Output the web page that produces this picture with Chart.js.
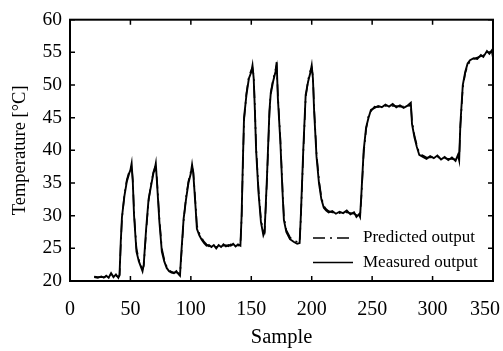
<!DOCTYPE html>
<html>
<head>
<meta charset="utf-8">
<script src="https://cdn.jsdelivr.net/npm/chart.js@4/dist/chart.umd.min.js"></script>
<style>
  html, body { margin: 0; padding: 0; background: #fff; }
  canvas { display: block; }
</style>
</head>
<body>
<canvas id="chart" width="503" height="351"></canvas>
<script>
// sample index
const samples = [
  20, 23, 26, 28, 30, 32, 34, 36, 38, 40,
  41, 42, 43, 45, 47, 49, 50, 51, 52, 53,
  55, 57, 59, 60, 61, 63, 65, 67, 69, 70,
  71, 72, 74, 76, 78, 80, 82, 84, 86, 88,
  90, 91, 92, 94, 96, 98, 100, 101, 102, 104,
  105, 107, 109, 111, 113, 115, 117, 119, 121, 123,
  125, 127, 129, 131, 133, 135, 137, 139, 141, 142,
  143, 144, 146, 148, 150, 151, 152, 153, 154, 156,
  158, 160, 161, 163, 165, 166, 168, 170, 171, 172,
  174, 176, 177, 179, 182, 185, 188, 190, 191, 193,
  195, 197, 199, 200, 201, 202, 204, 206, 208, 210,
  212, 214, 217, 220, 223, 226, 229, 232, 235, 237,
  239, 240, 241, 243, 245, 247, 249, 252, 255, 258,
  261, 264, 267, 270, 273, 276, 279, 282, 283, 285,
  287, 289, 292, 295, 298, 301, 304, 307, 310, 313,
  316, 319, 321, 322, 323, 325, 327, 329, 331, 334,
  337, 340, 342, 345, 347, 349, 350
];

const measured = [
  20.6, 20.5, 20.7, 20.5, 20.8, 20.5, 21.2, 20.6, 21.0, 20.5,
  21.0, 26.0, 29.8, 33.0, 35.2, 36.5, 37.0, 38.0, 35.0, 30.0,
  24.5, 23.0, 22.0, 21.5, 22.5, 28.0, 32.5, 34.5, 36.5, 37.0,
  38.0, 35.0, 29.0, 24.5, 23.0, 22.0, 21.5, 21.3, 21.2, 21.5,
  21.0, 20.8, 24.0, 29.5, 32.5, 35.0, 36.5, 37.8, 36.5, 31.0,
  28.0, 27.0, 26.3, 25.8, 25.4, 25.5, 25.2, 25.5, 25.0, 25.5,
  25.2, 25.6, 25.3, 25.5, 25.4, 25.7, 25.3, 25.6, 25.4, 30.0,
  38.0, 45.0, 48.5, 51.0, 52.0, 53.0, 51.0, 46.0, 40.0, 33.5,
  29.0, 27.0, 27.5, 36.0, 46.0, 48.5, 50.5, 52.0, 53.5, 48.0,
  41.5, 33.0, 29.3, 27.5, 26.4, 26.0, 25.7, 25.8, 30.0, 40.0,
  48.5, 50.5, 52.0, 53.0, 51.0, 46.0, 39.0, 35.0, 32.5, 31.2,
  30.8, 30.5, 30.7, 30.3, 30.6, 30.4, 30.8, 30.2, 30.5, 29.8,
  30.2, 29.8, 33.0, 40.0, 43.5, 45.0, 46.2, 46.5, 46.8, 46.6,
  47.0, 46.7, 47.1, 46.6, 46.9, 46.5, 46.8, 47.3, 44.0, 42.0,
  40.5, 39.3, 39.0, 38.7, 39.1, 38.8, 39.2, 38.6, 39.0, 38.5,
  38.9, 38.4, 39.3, 38.5, 44.0, 50.0, 52.0, 53.3, 53.8, 54.1,
  54.0, 54.6, 54.3, 55.2, 54.8, 55.3, 54.2
];

const predicted = [
  20.7, 20.6, 20.6, 20.6, 20.7, 20.6, 21.0, 20.7, 20.8, 20.6,
  20.8, 25.5, 29.5, 33.2, 35.5, 36.8, 37.2, 37.6, 35.4, 30.5,
  25.0, 23.3, 22.2, 21.8, 22.3, 27.5, 32.2, 34.8, 36.7, 37.3,
  37.7, 35.5, 29.5, 25.0, 23.3, 22.2, 21.7, 21.4, 21.3, 21.3,
  21.2, 21.0, 23.5, 29.2, 32.8, 35.3, 36.8, 37.4, 36.8, 31.5,
  28.5, 27.3, 26.6, 26.0, 25.6, 25.3, 25.4, 25.3, 25.2, 25.3,
  25.4, 25.4, 25.5, 25.3, 25.6, 25.5, 25.5, 25.4, 25.5, 29.5,
  37.5, 44.5, 48.8, 51.3, 52.3, 52.6, 51.4, 46.5, 40.5, 34.0,
  29.5, 27.4, 27.3, 35.5, 45.5, 48.8, 50.8, 52.3, 53.0, 48.5,
  42.0, 33.5, 29.8, 27.8, 26.7, 26.2, 26.0, 25.9, 29.5, 39.5,
  48.0, 50.8, 52.3, 52.6, 51.4, 46.5, 39.5, 35.5, 32.8, 31.5,
  31.0, 30.7, 30.5, 30.5, 30.4, 30.6, 30.5, 30.4, 30.3, 30.1,
  30.0, 30.0, 32.5, 39.5, 43.2, 45.3, 46.0, 46.7, 46.6, 46.8,
  46.8, 46.9, 46.8, 46.8, 46.7, 46.7, 46.6, 47.0, 44.5, 42.3,
  40.8, 39.6, 39.2, 38.9, 38.9, 39.0, 39.0, 38.8, 38.8, 38.7,
  38.7, 38.6, 39.0, 38.7, 43.5, 49.5, 51.8, 53.0, 53.6, 54.0,
  54.2, 54.4, 54.5, 54.9, 55.0, 55.0, 54.5
];

const xTicks = [0, 50, 100, 150, 200, 250, 300, 350];
const yTicks = [20, 25, 30, 35, 40, 45, 50, 55, 60];

const serif = '"Liberation Serif", "Times New Roman", serif';

const toPoints = ys => ys.map((v, i) => ({ x: samples[i], y: v }));

// frame, inward ticks on all four sides, x labels (last one kept inside canvas), legend
const framePlugin = {
  id: 'frame',
  afterDraw(chart) {
    const ctx = chart.ctx;
    const a = chart.chartArea;
    const x = chart.scales.x;
    const y = chart.scales.y;
    ctx.save();
    ctx.strokeStyle = '#000';
    ctx.lineWidth = 1.5;
    ctx.beginPath();
    xTicks.forEach(v => {
      const px = x.getPixelForValue(v);
      ctx.moveTo(px, a.bottom); ctx.lineTo(px, a.bottom - 5);
      ctx.moveTo(px, a.top); ctx.lineTo(px, a.top + 5);
    });
    yTicks.forEach(v => {
      const py = y.getPixelForValue(v);
      ctx.moveTo(a.left, py); ctx.lineTo(a.left + 5, py);
      ctx.moveTo(a.right, py); ctx.lineTo(a.right - 5, py);
    });
    ctx.stroke();
    ctx.lineWidth = 2;
    ctx.strokeRect(a.left, a.top, a.right - a.left, a.bottom - a.top);

    ctx.fillStyle = '#000';
    ctx.font = '20px ' + serif;
    ctx.textAlign = 'center';
    ctx.textBaseline = 'middle';
    xTicks.forEach(v => {
      const label = String(v);
      const w = ctx.measureText(label).width;
      let px = x.getPixelForValue(v);
      px = Math.min(px, chart.width - 3 - w / 2);
      ctx.fillText(label, px, a.bottom + 29);
    });

    // legend
    ctx.font = '17px ' + serif;
    ctx.textAlign = 'left';
    chart.data.datasets.forEach((ds, i) => {
      const ly = a.bottom - 43 + i * 24.5;
      ctx.beginPath();
      ctx.lineWidth = 1.5;
      ctx.setLineDash(ds.borderDash || []);
      ctx.moveTo(a.right - 180, ly);
      ctx.lineTo(a.right - 140, ly);
      ctx.stroke();
      ctx.setLineDash([]);
      ctx.fillText(ds.label, a.right - 130, ly);
    });
    ctx.restore();
  }
};

new Chart(document.getElementById('chart'), {
  type: 'line',
  data: {
    datasets: [
      {
        label: 'Predicted output',
        data: toPoints(predicted),
        borderColor: '#000',
        borderWidth: 1.6,
        borderDash: [12, 5, 2, 5],
        pointRadius: 0,
        tension: 0,
        fill: false
      },
      {
        label: 'Measured output',
        data: toPoints(measured),
        borderColor: '#000',
        borderWidth: 1.9,
        pointRadius: 0,
        tension: 0,
        fill: false
      }
    ]
  },
  options: {
    responsive: false,
    animation: false,
    devicePixelRatio: 1,
    layout: { padding: { top: 6, right: 10, left: 0, bottom: 0 } },
    plugins: {
      legend: { display: false },
      tooltip: { enabled: false }
    },
    scales: {
      x: {
        type: 'linear',
        min: 0,
        max: 350,
        ticks: { display: false, stepSize: 50 },
        grid: { display: false },
        border: { display: false },
        title: {
          display: true,
          text: 'Sample',
          color: '#000',
          font: { family: serif, size: 20.5 },
          padding: { top: 0, bottom: 1 }
        },
        afterFit(s) { s.height = 70; s.paddingLeft = 0; s.paddingRight = 0; }
      },
      y: {
        min: 20,
        max: 60,
        ticks: {
          stepSize: 5,
          color: '#000',
          padding: 8,
          font: { family: serif, size: 19.5 }
        },
        grid: { display: false, drawTicks: false },
        border: { display: false },
        title: {
          display: true,
          text: 'Temperature [°C]',
          color: '#000',
          font: { family: serif, size: 18.5 },
          padding: { top: 9, bottom: 0 }
        },
        afterFit(s) { s.width = 70; }
      }
    }
  },
  plugins: [framePlugin]
});
</script>
</body>
</html>
